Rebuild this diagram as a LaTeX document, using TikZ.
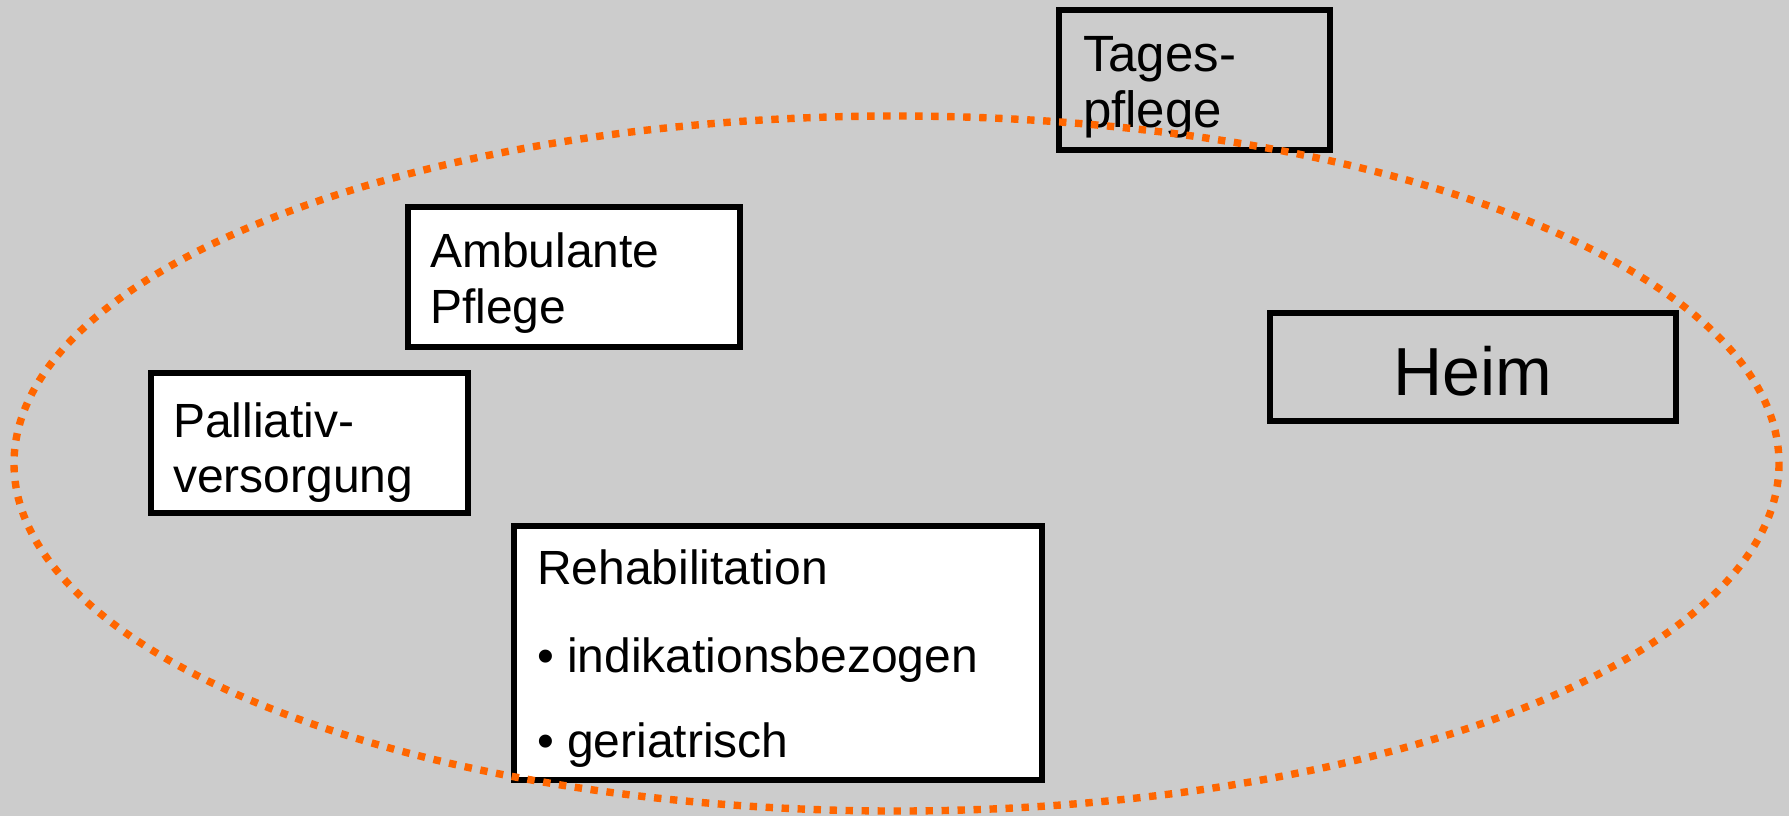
\documentclass[tikz,border=0pt]{standalone}
\usepackage{fontspec}
\setmainfont{Liberation Sans}
\definecolor{bggray}{RGB}{204,204,204}
\definecolor{dotorange}{RGB}{255,102,0}
\tikzset{every picture/.style={line width=3pt},
  box/.style={draw=black,line width=3pt},
  whitebox/.style={box,fill=white},
  txt/.style={anchor=base west,inner sep=0pt,font=\fontsize{24}{29}\selectfont},
  tagestxt/.style={txt,font=\fontsize{25.5}{30}\selectfont},
  bigtxt/.style={anchor=base,inner sep=0pt,font=\fontsize{34}{41}\selectfont},
  dotline/.style={draw=dotorange,line width=3.7pt,dash pattern=on 3.7pt off 4.3pt}}

\begin{document}
\begin{tikzpicture}[x=0.5pt,y=0.5pt,yscale=-1,xscale=1]
%Shape: Background
\fill[bggray] (0,0) rectangle (1789,816);

%Shape: Rectangle [Tagespflege]
\draw[box] (1059,10) rectangle (1330,150);
%Shape: Rectangle [Ambulante Pflege]
\draw[whitebox] (408,207) rectangle (740,347);
%Shape: Rectangle [Palliativversorgung]
\draw[whitebox] (151,373) rectangle (468,513);
%Shape: Rectangle [Rehabilitation]
\draw[whitebox] (514,526) rectangle (1042,780);
%Shape: Rectangle [Heim]
\draw[box] (1270,313) rectangle (1676,421);

% Text Node
\draw (1080,71) node[tagestxt] (tagesA) {Tages-};
\draw (1080,127) node[tagestxt] (tagesB) {pflege};
% Text Node
\draw (427,267) node[txt] (ambA) {Ambulante};
\draw (427,323) node[txt] (ambB) {Pflege};
% Text Node
\draw (170,437) node[txt] (pallA) {Palliativ-};
\draw (170,492) node[txt] (pallB) {versorgung};
% Text Node
\draw (534,584) node[txt] (rehaA) {Rehabilitation};
\draw (534,672) node[txt] (rehaB) {\textbullet\ indikationsbezogen};
\draw (534,757) node[txt] (rehaC) {\textbullet\ geriatrisch};
% Text Node
\draw (1473,395) node[bigtxt] (heim) {Heim};

%Shape: Ellipse [dotted]
\draw[dotline] (896.5,463.5) ellipse [x radius=882.5,y radius=347.5];
\end{tikzpicture}
\end{document}
